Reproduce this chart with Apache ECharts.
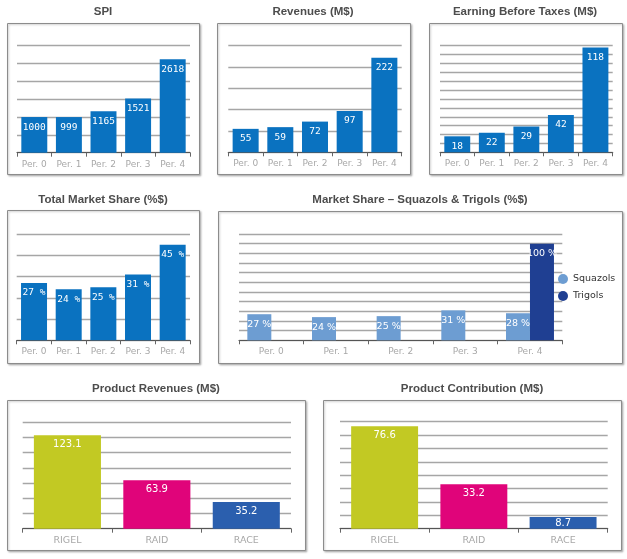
<!DOCTYPE html>
<html>
<head>
<meta charset="utf-8">
<script src="https://cdn.jsdelivr.net/npm/echarts@6/dist/echarts.min.js"></script>
<style>
html,body{margin:0;padding:0;background:#fff;}
#c{width:627px;height:559px;}
</style>
</head>
<body>
<div id="c"></div>
<script>
var periods = ['Per. 0', 'Per. 1', 'Per. 2', 'Per. 3', 'Per. 4'];
var spi = [1000, 999, 1165, 1521, 2618];
var revenues = [55, 59, 72, 97, 222];
var ebt = [18, 22, 29, 42, 118];
var totalShare = [27, 24, 25, 31, 45];
var squazols = [27, 24, 25, 31, 28];
var trigols = [0, 0, 0, 0, 100];
var products = ['RIGEL', 'RAID', 'RACE'];
var productRevenues = [123.1, 63.9, 35.2];
var productContribution = [76.6, 33.2, 8.7];

var titles = ['SPI', 'Revenues (M$)', 'Earning Before Taxes (M$)', 'Total Market Share (%$)',
  'Market Share \u2013 Squazols & Trigols (%$)', 'Product Revenues (M$)', 'Product Contribution (M$)'];

// layout (panel boxes, grids, title positions)
var boxes = [
  [7, 23, 192, 151], [217, 23, 193, 151], [429, 23, 193, 151],
  [7, 210, 192, 153], [218, 211, 404, 152],
  [7, 400, 298, 150], [323, 400, 298, 150]
];
var grids = [
  [17, 45.7, 173, 107], [228.3, 45.7, 173.4, 106.6], [440, 45.7, 172.7, 106.6],
  [16.7, 234, 173.3, 106.3], [239, 234, 323.3, 106.3],
  [22.7, 422.3, 268.3, 106.4], [340, 421.7, 267.7, 107]
];
var titleCenters = [[103, 6], [313, 6], [525, 6], [103, 194], [420, 194], [156, 383], [472, 383]];
var axes = [[3000, 500], [250, 50], [120, 10], [50, 10], [110, 10], [140, 20], [80, 10]];

var chart = echarts.init(document.getElementById('c'), null, {renderer: 'canvas'});

var option = {
  animation: false,
  backgroundColor: '#fff',
  title: titles.map(function (t, i) {
    return {
      text: t, left: titleCenters[i][0], top: titleCenters[i][1], textAlign: 'center', padding: 0,
      textStyle: {fontFamily: 'Liberation Sans', fontWeight: 'bold', fontSize: 11.5, color: '#4d4d4d'}
    };
  }),
  graphic: boxes.map(function (b) {
    return {
      type: 'rect', silent: true, z: -10,
      shape: {x: b[0] + 0.5, y: b[1] + 0.5, width: b[2], height: b[3]},
      style: {fill: '#fff', stroke: '#8c8c8c', lineWidth: 1, shadowBlur: 2, shadowOffsetX: 1, shadowOffsetY: 1, shadowColor: 'rgba(0,0,0,0.25)'}
    };
  }),
  legend: {
    orient: 'vertical', left: 553, top: 269, itemGap: 7, icon: 'circle', itemWidth: 10, itemHeight: 10,
    textStyle: {fontFamily: 'DejaVu Sans', fontSize: 9.5, color: '#333'},
    data: ['Squazols', 'Trigols']
  },
  grid: grids.map(function (g) {
    return {left: g[0], top: g[1], width: g[2], height: g[3], containLabel: false};
  }),
  xAxis: grids.map(function (g, i) {
    var isProd = i >= 5;
    return {
      type: 'category', gridIndex: i, data: isProd ? products : periods,
      axisLine: {lineStyle: {color: '#555', width: 1.2}},
      axisTick: {show: true, length: 4, lineStyle: {color: '#666'}},
      axisLabel: {
        interval: 0, color: '#a8a8a8', fontSize: isProd ? 9.5 : 9, margin: 7,
        fontFamily: 'DejaVu Sans'
      },
      splitLine: {show: false}
    };
  }),
  yAxis: axes.map(function (a, i) {
    return {
      type: 'value', gridIndex: i, min: 0, max: a[0], interval: a[1],
      axisLine: {show: false}, axisTick: {show: false}, axisLabel: {show: false},
      splitLine: {lineStyle: {color: '#a6a6a6', width: 1.3}}
    };
  }),
  series: []
};

function barSeries(idx, data, color, fmt) {
  return {
    type: 'bar', xAxisIndex: idx, yAxisIndex: idx, data: data,
    barCategoryGap: '25%',
    itemStyle: {color: color},
    label: {
      show: true, position: 'insideTop', distance: 5, color: '#fff',
      fontFamily: 'DejaVu Sans Mono', fontSize: 9.5,
      formatter: fmt || '{c}'
    }
  };
}

var blue = '#0a72c0';
option.series.push(barSeries(0, spi, blue));
option.series.push(barSeries(1, revenues, blue));
option.series.push(barSeries(2, ebt, blue));
option.series.push(barSeries(3, totalShare, blue, '{c} %'));

function pctFmt(p) { return p.value ? p.value + ' %' : ''; }
option.series.push({
  name: 'Squazols', type: 'bar', xAxisIndex: 4, yAxisIndex: 4, data: squazols,
  barWidth: 24, barGap: '0%',
  itemStyle: {color: '#6d9dd2'},
  label: {show: true, position: 'insideTop', distance: 5, color: '#fff', fontFamily: 'DejaVu Sans', fontSize: 9.5,
    formatter: pctFmt}
});
option.series.push({
  name: 'Trigols', type: 'bar', xAxisIndex: 4, yAxisIndex: 4, data: trigols,
  barWidth: 24, barGap: '0%',
  itemStyle: {color: '#1f3f92'},
  label: {show: true, position: 'insideTop', distance: 5, color: '#fff', fontFamily: 'DejaVu Sans', fontSize: 9.5,
    formatter: pctFmt}
});

var prodColors = ['#c2c923', '#e0047a', '#2b5fae'];
[5, 6].forEach(function (idx) {
  var d = idx === 5 ? productRevenues : productContribution;
  var maxV = axes[idx][0];
  option.series.push({
    type: 'bar', xAxisIndex: idx, yAxisIndex: idx,
    data: d.map(function (v, k) {
      var item = {value: v, itemStyle: {color: prodColors[k]}};
      if (v / maxV < 0.15) item.label = {distance: 1};
      return item;
    }),
    barCategoryGap: '25%',
    label: {show: true, position: 'insideTop', distance: 4, color: '#fff', fontFamily: 'DejaVu Sans', fontSize: 10,
      formatter: function (p) { return p.value.toFixed(1); }}
  });
});

chart.setOption(option);
</script>
</body>
</html>
